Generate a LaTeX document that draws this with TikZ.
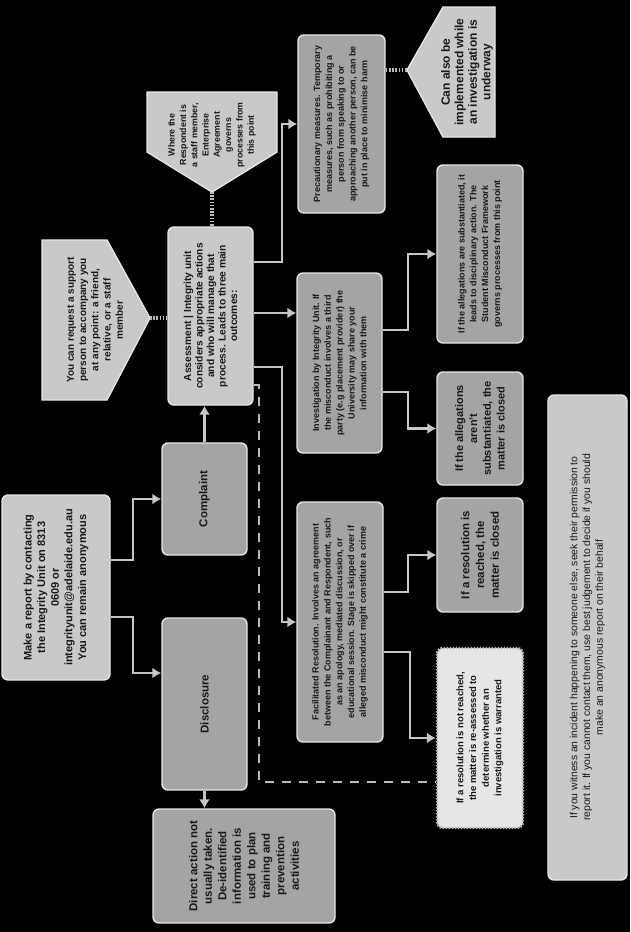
\documentclass[tikz,border=0pt]{standalone}
\usepackage{fontspec}
\setmainfont{Liberation Sans}
\usepackage{xcolor}
\usetikzlibrary{arrows.meta}
\definecolor{boxlight}{HTML}{C9C9C9}
\definecolor{boxmid}{HTML}{A4A4A4}
\definecolor{boxpale}{HTML}{E6E6E6}
\newcommand{\boxfont}[2]{\bfseries\fontsize{#1}{#2}\selectfont}

\begin{document}
\begin{tikzpicture}[
  x=1pt, y=-1pt,
  >={Latex[length=9pt, width=11pt]},
  box/.style={draw=gray!20, line width=1.4pt, rounded corners=6pt, rotate=90,
              align=center, text=black!90, inner sep=2pt},
  lightbox/.style={box, fill=boxlight},
  midbox/.style={box, fill=boxmid},
  palebox/.style={box, fill=boxpale, draw=gray!60, line width=2.4pt,
                  dash pattern=on 1.5pt off 1.5pt},
  tag/.style={fill=boxlight, draw=gray!20, line width=1.4pt},
  tagtext/.style={rotate=90, align=center, text=black!90},
  flow/.style={->, draw=gray!45, line width=2.8pt},
  link/.style={draw=gray!55, line width=4pt, dash pattern=on 1.6pt off 1.6pt},
  back/.style={draw=gray!55, line width=1.8pt, dash pattern=on 9pt off 8pt}
]
\fill[black] (0,0) rectangle (630,932);

\node[lightbox, minimum width=185pt, minimum height=108pt, font=\boxfont{11}{13.6}]
  (report) at (56,587.5) {Make a report by contacting\\the Integrity Unit on 8313\\0609 or\\
  integrityunit@adelaide.edu.au\\You can remain anonymous};
\node[midbox, minimum width=112pt, minimum height=85pt, font=\boxfont{11.5}{14}]
  (complaint) at (204.5,499) {Complaint};
\node[midbox, minimum width=172pt, minimum height=85pt, font=\boxfont{11.5}{14}]
  (disclosure) at (204.5,704) {Disclosure};
\node[midbox, minimum width=114pt, minimum height=182pt, font=\boxfont{11.5}{14.5}]
  (direct) at (244,866) {Direct action not\\usually taken.\\De-identified\\information is\\
  used to plan\\training and\\prevention\\activities};
\node[lightbox, minimum width=178pt, minimum height=85pt, font=\boxfont{10.2}{11.5}]
  (asmt) at (210.5,316) {Assessment | Integrity unit\\considers appropriate actions\\
  and who will manage that\\process. Leads to three main\\outcomes:};

\path[tag] (147,92) -- (277,92) -- (277,152) -- (212,192) -- (147,152) -- cycle;
\coordinate (stafftip) at (212,192);
\node[tagtext, font=\boxfont{8.8}{11.3}] (staff) at (212,135)
  {Where the\\Respondent is\\a staff member,\\Enterprise\\Agreement\\governs\\processes from\\this point};

\path[tag] (42,240) -- (107,240) -- (150,318) -- (107,400) -- (42,400) -- cycle;
\coordinate (supporttip) at (150,318);
\node[tagtext, font=\boxfont{10}{12.3}] (support) at (95,320)
  {You can request a support\\person to accompany you\\at any point: a friend,\\relative, or a staff\\member};

\node[midbox, minimum width=178pt, minimum height=87pt, font=\boxfont{9}{11.8}]
  (prec) at (341.5,124) {Precautionary measures. Temporary\\measures, such as prohibiting a\\
  person from speaking to or\\approaching another person, can be\\put in place to minimise harm};

\path[tag] (407,70) -- (443,7) -- (495,7) -- (495,137) -- (443,137) -- cycle;
\coordinate (alsotip) at (407,70);
\node[tagtext, font=\boxfont{12}{13.5}] (also) at (467,72)
  {Can also be\\implemented while\\an investigation is\\underway};

\node[midbox, minimum width=180pt, minimum height=85pt, font=\boxfont{9}{11.8}]
  (invest) at (339.5,363) {Investigation by Integrity Unit. If\\the misconduct involves a third\\
  party (e.g placement provider) the\\University may share your\\information with them};
\node[midbox, minimum width=240pt, minimum height=86pt, font=\boxfont{9}{11.8}]
  (facil) at (340,622) {Facilitated Resolution. Involves an agreement\\
  between the Complainant and Respondent, such\\as an apology, mediated discussion, or\\
  educational session. Stage is skipped over if\\alleged misconduct might constitute a crime};

\node[midbox, minimum width=178pt, minimum height=86pt, font=\boxfont{9}{11.8}]
  (subst) at (480,254) {If the allegations are substantiated, it\\leads to disciplinary action. The\\
  Student Misconduct Framework\\governs processes from this point};
\node[midbox, minimum width=113pt, minimum height=86pt, font=\boxfont{11}{13.8}]
  (notsub) at (480,428.5) {If the allegations\\aren't\\substantiated, the\\matter is closed};
\node[midbox, minimum width=114pt, minimum height=86pt, font=\boxfont{11.5}{14.8}]
  (reached) at (480,555) {If a resolution is\\reached, the\\matter is closed};
\node[palebox, minimum width=180pt, minimum height=86pt, font=\boxfont{9.5}{12.7}]
  (notreach) at (480,738) {If a resolution is not reached,\\the matter is re-assessed to\\
  determine whether an\\investigation is warranted};

\node[lightbox, minimum width=485pt, minimum height=79pt, font=\fontsize{10.4}{12.8}\selectfont]
  (witness) at (587.5,637.5) {If you witness an incident happening to someone else, seek their permission to\\
  report it. If you cannot contact them, use best judgement to decide if you should\\
  make an anonymous report on their behalf};

\draw[flow] (report.south |- 0,560) -- (133,560) |- (complaint.north);
\draw[flow] (report.south |- 0,617) -- (133,617) |- (disclosure.north |- 0,673);
\draw[flow] (complaint.east) -- (complaint.east |- asmt.west);
\draw[flow] (disclosure.west) -- (disclosure.west |- direct.east);
\draw[flow] (asmt.south |- 0,262) -- (282,262) |- (prec.north);
\draw[flow] (asmt.south |- 0,313) -- (invest.north |- 0,313);
\draw[flow] (asmt.south |- 0,367) -- (282,367) |- (facil.north);
\draw[flow] (invest.south |- 0,330) -- (408,330) |- (subst.north);
\draw[flow] (invest.south |- 0,392) -- (408,392) |- (notsub.north);
\draw[flow] (facil.south |- 0,592) -- (408,592) |- (reached.north);
\draw[flow] (facil.south |- 0,652) -- (410,652) |- (notreach.north);
\draw[back] (asmt.south |- 0,385) -- (259,385) -- (259,782) -- (notreach.north |- 0,782);
\draw[link] (stafftip) -- (stafftip |- asmt.east);
\draw[link] (supporttip) -- (asmt.north |- supporttip);
\draw[link] (prec.south |- alsotip) -- (alsotip);
\end{tikzpicture}
\end{document}
